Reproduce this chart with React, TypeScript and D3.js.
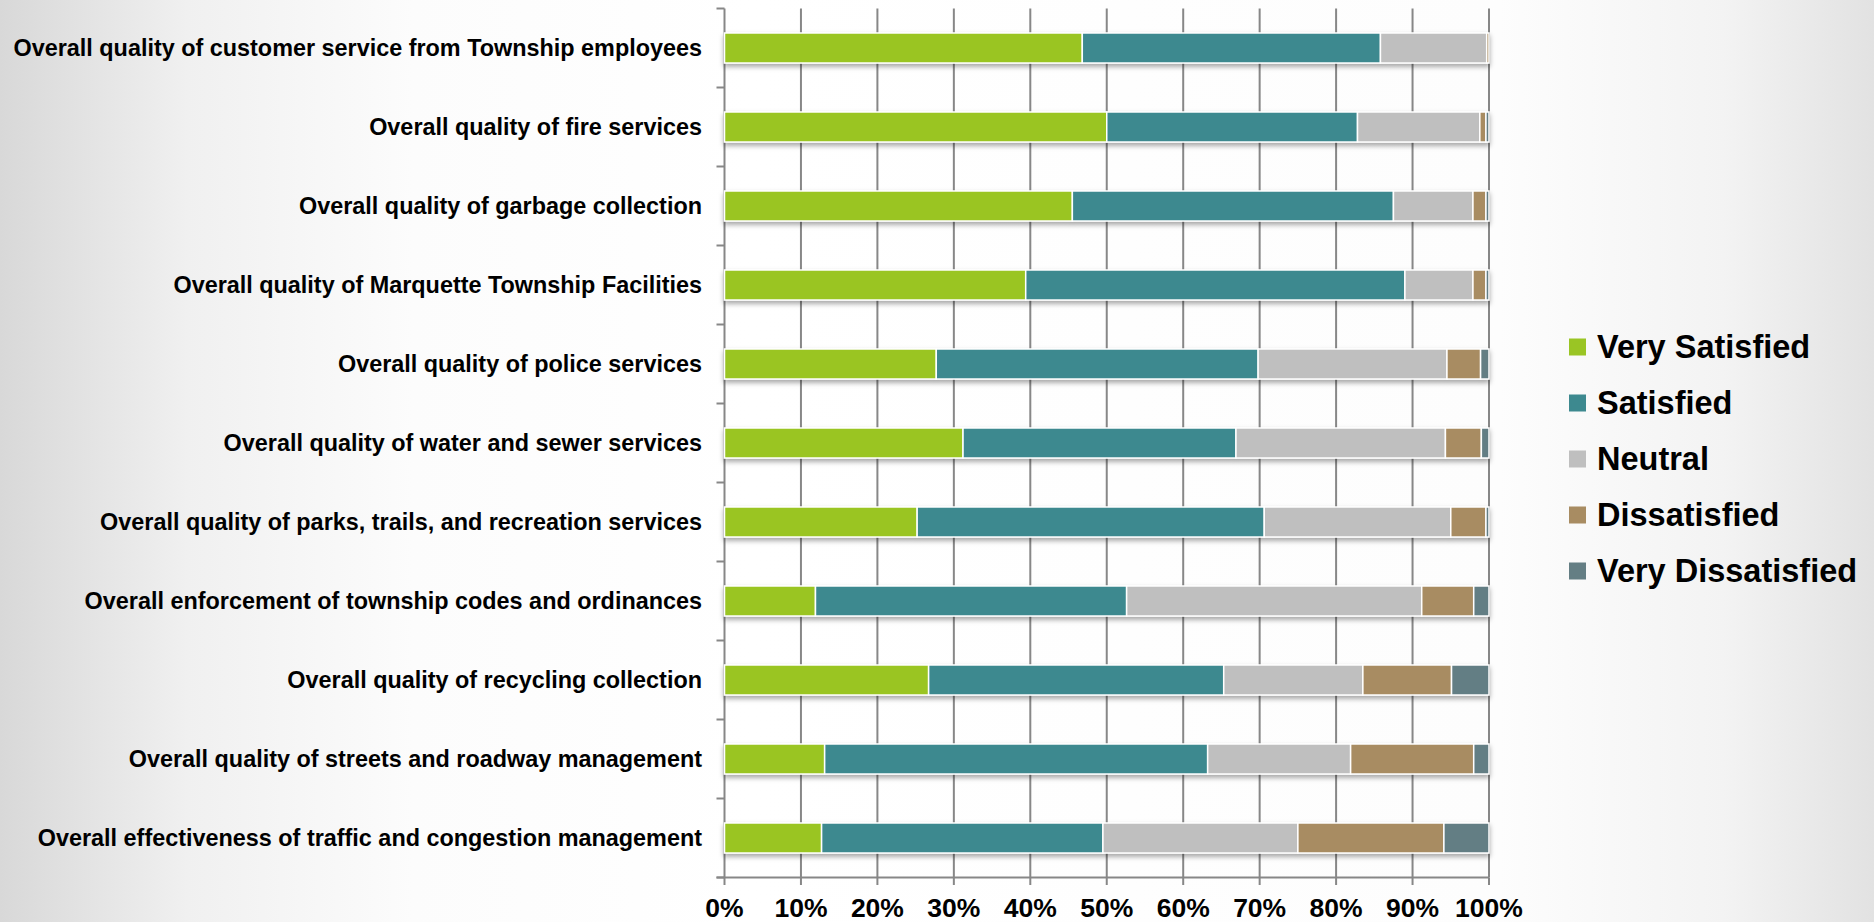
import React from "react";
import * as d3 from "d3";

const categories = [
  "Overall quality of customer service from Township employees",
  "Overall quality of fire services",
  "Overall quality of garbage collection",
  "Overall quality of Marquette Township Facilities",
  "Overall quality of police services",
  "Overall quality of water and sewer services",
  "Overall quality of parks, trails, and recreation services",
  "Overall enforcement of township codes and ordinances",
  "Overall quality of recycling collection",
  "Overall quality of streets and roadway management",
  "Overall effectiveness of traffic and congestion management",
];

const seriesNames = ["Very Satisfied", "Satisfied", "Neutral", "Dissatisfied", "Very Dissatisfied"];
const seriesColors = ["#9AC524", "#3D898F", "#BFBFBF", "#A88C62", "#647E84"];

const verySatisfied = [46.8, 50.0, 45.5, 39.4, 27.7, 31.2, 25.2, 11.9, 26.7, 13.1, 12.7];
const satisfied = [39.0, 32.8, 42.0, 49.6, 42.1, 35.7, 45.4, 40.7, 38.6, 50.1, 36.8];
const neutral = [13.9, 16.0, 10.4, 8.9, 24.7, 27.4, 24.4, 38.6, 18.2, 18.7, 25.5];
const dissatisfied = [0.3, 0.8, 1.7, 1.7, 4.4, 4.7, 4.6, 6.8, 11.6, 16.1, 19.1];
const veryDissatisfied = [0.0, 0.4, 0.4, 0.4, 1.1, 1.0, 0.4, 2.0, 4.9, 2.0, 5.9];

const xTicks = [0, 10, 20, 30, 40, 50, 60, 70, 80, 90, 100];

const W = 1874;
const H = 922;
const FONT = "'Liberation Sans', Arial, sans-serif";

export default function App() {
  const rows = categories.map((c, i) => ({
    category: c,
    "Very Satisfied": verySatisfied[i],
    Satisfied: satisfied[i],
    Neutral: neutral[i],
    Dissatisfied: dissatisfied[i],
    "Very Dissatisfied": veryDissatisfied[i],
  }));
  const stacked = d3.stack<any>().keys(seriesNames)(rows);

  const x = d3.scaleLinear().domain([0, 100]).range([724.5, 1489]);
  const y = d3.scaleBand<string>().domain(categories).range([8.5, 877.5]).padding(0);
  const bw = y.bandwidth();
  const barH = bw * 0.38;
  const color = d3.scaleOrdinal<string, string>().domain(seriesNames).range(seriesColors);
  const boundaries = d3.range(categories.length + 1).map((i) => 8.5 + i * bw);
  const legendY = d3.scalePoint<string>().domain(seriesNames).range([347, 571]);

  return (
    <div style={{ position: "fixed", left: 0, top: 0 }}>
      <svg width={W} height={H} style={{ display: "block" }}>
        <defs>
          <linearGradient id="bg" x1="0" x2="1" y1="0" y2="0">
            <stop offset="0" stopColor="#d8d8d8" />
            <stop offset="0.1" stopColor="#f0f0f0" />
            <stop offset="0.22" stopColor="#fcfcfc" />
            <stop offset="0.4" stopColor="#ffffff" />
            <stop offset="0.8" stopColor="#fdfdfd" />
            <stop offset="0.92" stopColor="#f3f3f3" />
            <stop offset="1" stopColor="#e2e2e2" />
          </linearGradient>
          <filter id="shadow" x="-5%" y="-50%" width="110%" height="200%">
            <feDropShadow dx="0" dy="3" stdDeviation="2.5" floodColor="#000" floodOpacity="0.35" />
          </filter>
        </defs>
        <rect x={0} y={0} width={W} height={H} fill="url(#bg)" />

        {/* gridlines */}
        {xTicks.slice(1).map((t) => (
          <line key={"g" + t} x1={x(t)} x2={x(t)} y1={8.5} y2={877.5} stroke="#878787" strokeWidth={2} />
        ))}
        {/* y axis */}
        <line x1={x(0)} x2={x(0)} y1={8.5} y2={877.5} stroke="#878787" strokeWidth={2} />
        {boundaries.map((b, i) => (
          <line key={"yt" + i} x1={x(0) - 8} x2={x(0)} y1={b} y2={b} stroke="#878787" strokeWidth={2} />
        ))}
        {/* x axis */}
        <line x1={x(0) - 8} x2={x(100)} y1={877.5} y2={877.5} stroke="#878787" strokeWidth={2} />
        {xTicks.map((t) => (
          <line key={"xt" + t} x1={x(t)} x2={x(t)} y1={877.5} y2={885} stroke="#878787" strokeWidth={2} />
        ))}

        {/* bars */}
        {categories.map((c, i) => (
          <g key={"row" + i} filter="url(#shadow)">
            {stacked.map((s) => {
              const d = s[i];
              const w = x(d[1]) - x(d[0]);
              if (w <= 0) return null;
              return (
                <rect
                  key={s.key}
                  x={x(d[0])}
                  y={(y(c) as number) + (bw - barH) / 2}
                  width={w}
                  height={barH}
                  fill={color(s.key)}
                  stroke="#ffffff"
                  strokeWidth={1.5}
                />
              );
            })}
          </g>
        ))}

        {/* category labels */}
        {categories.map((c) => (
          <text
            key={"l" + c}
            x={702}
            y={(y(c) as number) + bw / 2}
            textAnchor="end"
            dominantBaseline="central"
            fontFamily={FONT}
            fontWeight="bold"
            fontSize={23.4}
            fill="#000"
          >
            {c}
          </text>
        ))}

        {/* x tick labels */}
        {xTicks.map((t) => (
          <text
            key={"xl" + t}
            x={x(t)}
            y={917}
            textAnchor="middle"
            fontFamily={FONT}
            fontWeight="bold"
            fontSize={26.5}
            fill="#000"
          >
            {t + "%"}
          </text>
        ))}

        {/* legend */}
        {seriesNames.map((s) => (
          <g key={"lg" + s}>
            <rect x={1569} y={(legendY(s) as number) - 8.5} width={17} height={17} fill={color(s)} />
            <text
              x={1597}
              y={legendY(s) as number}
              dominantBaseline="central"
              fontFamily={FONT}
              fontWeight="bold"
              fontSize={32.5}
              fill="#000"
            >
              {s}
            </text>
          </g>
        ))}
      </svg>
    </div>
  );
}
